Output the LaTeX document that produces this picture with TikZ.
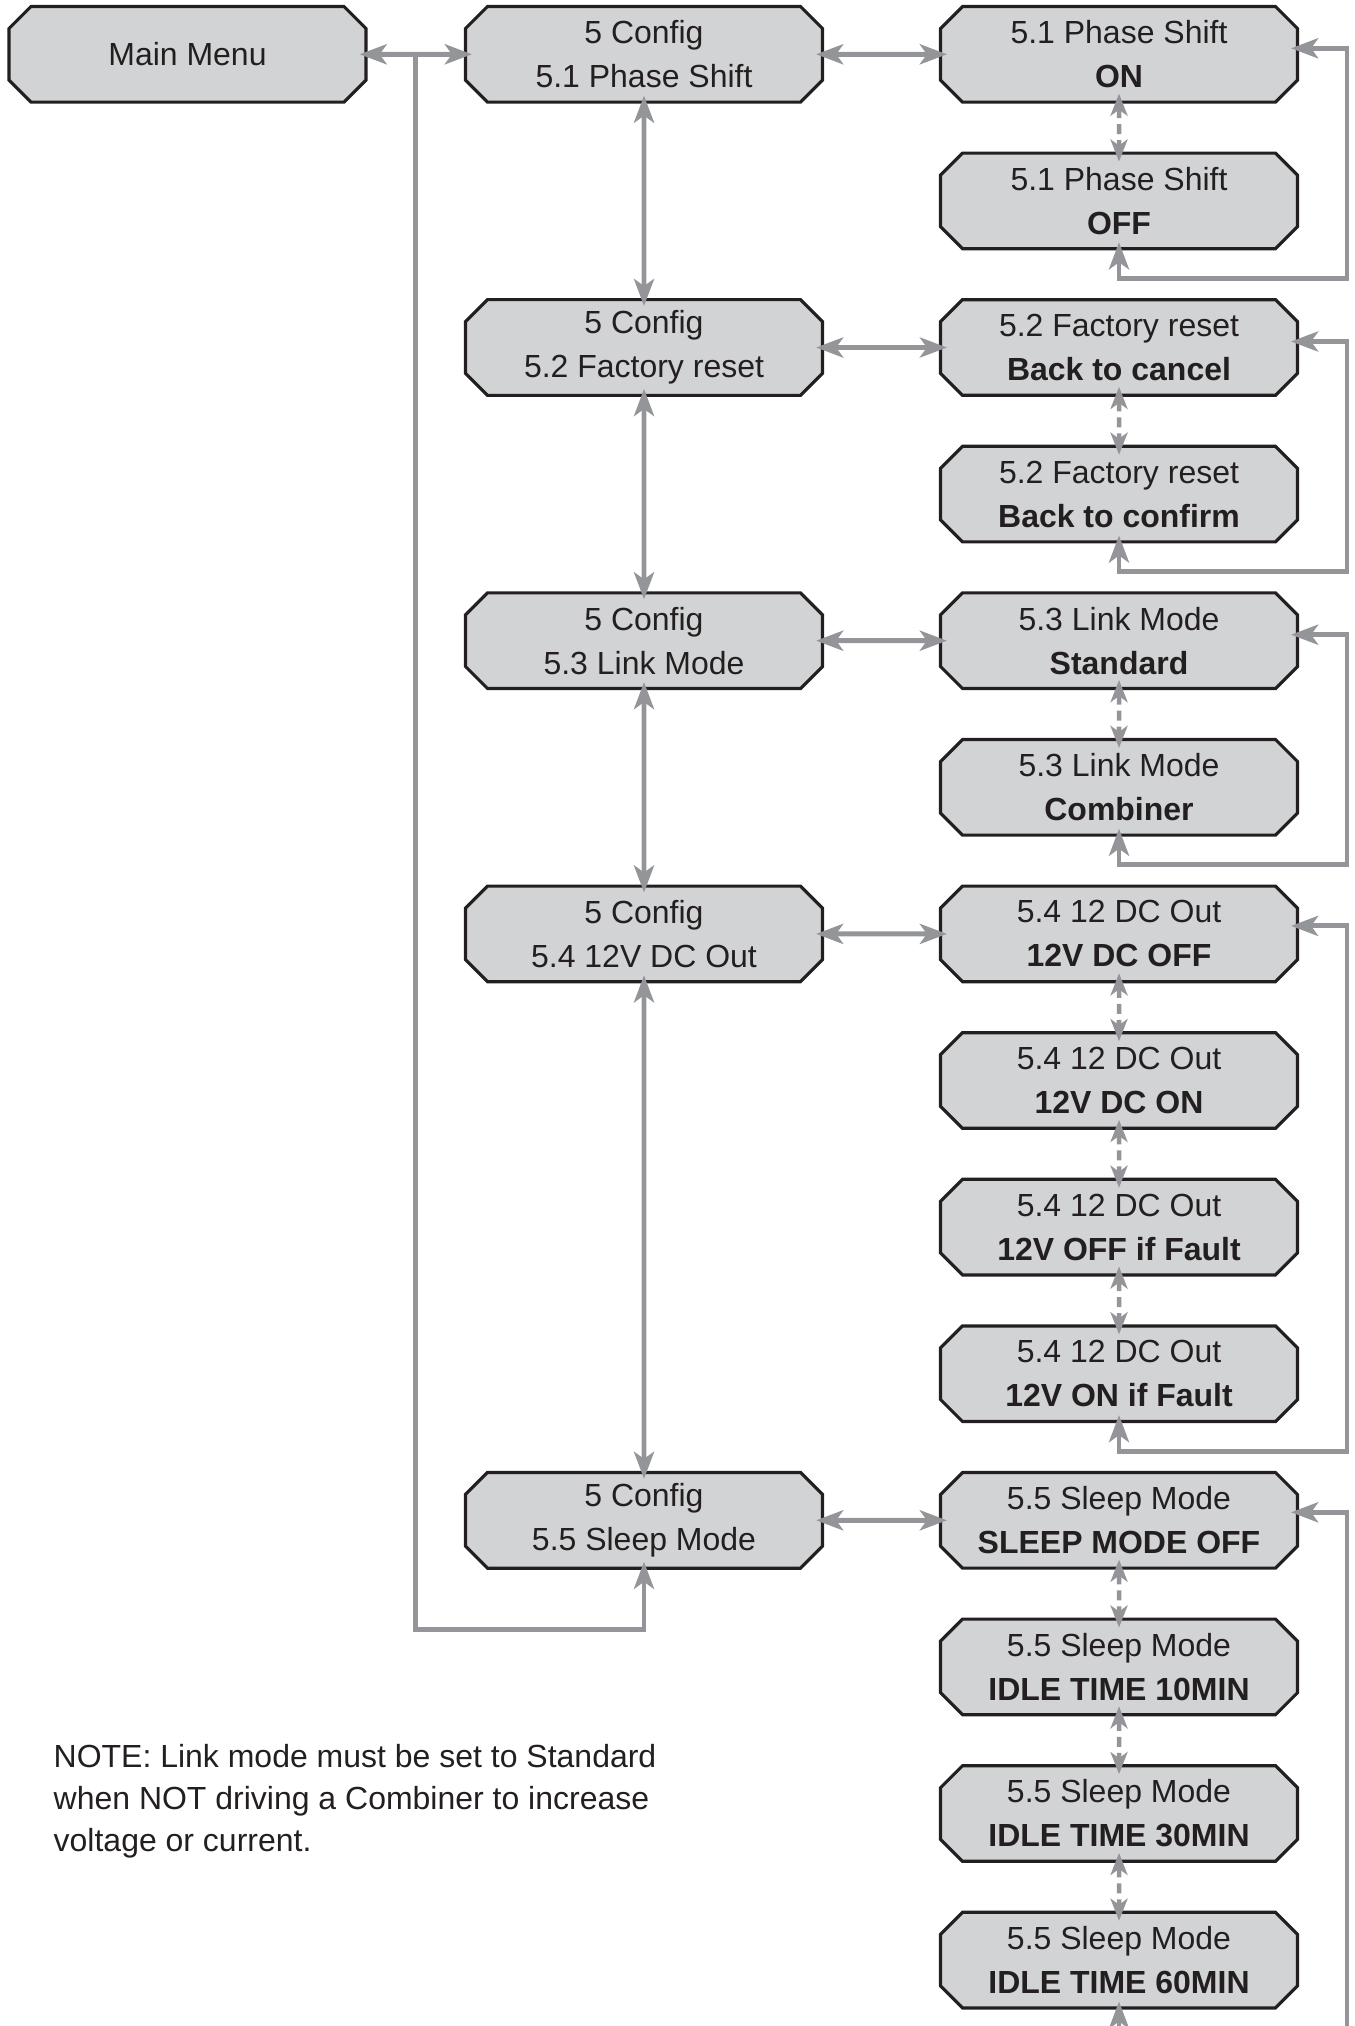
\documentclass[tikz,border=0pt]{standalone}
\usepackage{fontspec}
\setmainfont{Liberation Sans}
\usepackage{tikz}
\usetikzlibrary{shapes.misc, arrows.meta, positioning, calc}
\definecolor{boxgray}{HTML}{D1D3D4}
\definecolor{linegray}{HTML}{939598}
\definecolor{inkdark}{HTML}{231F20}
\tikzstyle{menubox} = [chamfered rectangle, chamfered rectangle sep=0.11cm, minimum width=3.57cm, minimum height=0.956cm, inner sep=0pt, align=center, draw=inkdark, line width=0.9pt, fill=boxgray, text=inkdark, font=\fontsize{9.1}{12.5}\selectfont]
\tikzstyle{biarrow} = [linegray, line width=1.4pt, {Stealth[length=0.27cm,width=0.2cm,inset=0.07cm]}-{Stealth[length=0.27cm,width=0.2cm,inset=0.07cm]}, shorten <=-0.08cm, shorten >=-0.08cm]
\tikzstyle{toarrow} = [linegray, line width=1.4pt, -{Stealth[length=0.27cm,width=0.2cm,inset=0.07cm]}, shorten >=-0.08cm]
\tikzstyle{dasharrow} = [linegray, line width=1.3pt, {Stealth[length=0.22cm,width=0.17cm,inset=0.06cm]}-{Stealth[length=0.22cm,width=0.17cm,inset=0.06cm]}, shorten <=-0.1cm, shorten >=-0.1cm, dash pattern=on 0.1cm off 0.06cm]
\tikzstyle{notetext} = [anchor=north west, align=left, inner sep=0pt, text=inkdark, font=\fontsize{9.1}{11.9}\selectfont]

\begin{document}
\begin{tikzpicture}[node distance=1.466cm]
\useasboundingbox (0,0) rectangle (13.55,-20.26);
\node (main) [menubox] at (1.875,-0.543) {Main Menu};
\node (cfgA) [menubox, right of=main, xshift=3.099cm] {5 Config\\5.1 Phase Shift};
\node (cfgB) [menubox, below of=cfgA, yshift=-1.466cm] {5 Config\\5.2 Factory reset};
\node (cfgC) [menubox, below of=cfgB, yshift=-1.466cm] {5 Config\\5.3 Link Mode};
\node (cfgD) [menubox, below of=cfgC, yshift=-1.466cm] {5 Config\\5.4 12V DC Out};
\node (cfgE) [menubox, below of=cfgD, yshift=-4.398cm] {5 Config\\5.5 Sleep Mode};

\node (psOn) [menubox, right of=cfgA, xshift=3.284cm] {5.1 Phase Shift\\\textbf{ON}};
\node (psOff) [menubox, below of=psOn] {5.1 Phase Shift\\\textbf{OFF}};
\node (frCancel) [menubox, below of=psOff] {5.2 Factory reset\\\textbf{Back to cancel}};
\node (frConfirm) [menubox, below of=frCancel] {5.2 Factory reset\\\textbf{Back to confirm}};
\node (lmStd) [menubox, below of=frConfirm] {5.3 Link Mode\\\textbf{Standard}};
\node (lmComb) [menubox, below of=lmStd] {5.3 Link Mode\\\textbf{Combiner}};
\node (dcOff) [menubox, below of=lmComb] {5.4 12 DC Out\\\textbf{12V DC OFF}};
\node (dcOn) [menubox, below of=dcOff] {5.4 12 DC Out\\\textbf{12V DC ON}};
\node (dcOffFault) [menubox, below of=dcOn] {5.4 12 DC Out\\\textbf{12V OFF if Fault}};
\node (dcOnFault) [menubox, below of=dcOffFault] {5.4 12 DC Out\\\textbf{12V ON if Fault}};
\node (slOff) [menubox, below of=dcOnFault] {5.5 Sleep Mode\\\textbf{SLEEP MODE OFF}};
\node (slTen) [menubox, below of=slOff] {5.5 Sleep Mode\\\textbf{IDLE TIME 10MIN}};
\node (slThirty) [menubox, below of=slTen] {5.5 Sleep Mode\\\textbf{IDLE TIME 30MIN}};
\node (slSixty) [menubox, below of=slThirty] {5.5 Sleep Mode\\\textbf{IDLE TIME 60MIN}};

\node (note) [notetext] at (0.53,-17.44) {NOTE: Link mode must be set to Standard\\when NOT driving a Combiner to increase\\voltage or current.};

% main menu and config column
\draw [biarrow] (main) -- (cfgA);
\coordinate (jn) at ($(main.east)!0.5!(cfgA.west)$);
\coordinate (cfgBack) at ($(cfgE.south)+(0,-0.595)$);
\draw [toarrow] (jn) |- (cfgBack) -- (cfgE.south);
\draw [biarrow] (cfgA) -- (cfgB);
\draw [biarrow] (cfgB) -- (cfgC);
\draw [biarrow] (cfgC) -- (cfgD);
\draw [biarrow] (cfgD) -- (cfgE);

% config to options
\draw [biarrow] (cfgA) -- (psOn);
\draw [biarrow] (cfgB) -- (frCancel);
\draw [biarrow] (cfgC) -- (lmStd);
\draw [biarrow] (cfgD) -- (dcOff);
\draw [biarrow] (cfgE) -- (slOff);

% option steps
\draw [dasharrow] (psOn) -- (psOff);
\draw [dasharrow] (frCancel) -- (frConfirm);
\draw [dasharrow] (lmStd) -- (lmComb);
\draw [dasharrow] (dcOff) -- (dcOn);
\draw [dasharrow] (dcOn) -- (dcOffFault);
\draw [dasharrow] (dcOffFault) -- (dcOnFault);
\draw [dasharrow] (slOff) -- (slTen);
\draw [dasharrow] (slTen) -- (slThirty);
\draw [dasharrow] (slThirty) -- (slSixty);

% wrap-around loops
\coordinate (psTurn) at ($(psOff.south)+(2.28,-0.28)$);
\draw [biarrow] ([yshift=0.06cm]psOn.east) -| (psTurn) -| (psOff.south);
\coordinate (frTurn) at ($(frConfirm.south)+(2.28,-0.28)$);
\draw [biarrow] ([yshift=0.06cm]frCancel.east) -| (frTurn) -| (frConfirm.south);
\coordinate (lmTurn) at ($(lmComb.south)+(2.28,-0.28)$);
\draw [biarrow] ([yshift=0.06cm]lmStd.east) -| (lmTurn) -| (lmComb.south);
\coordinate (dcTurn) at ($(dcOnFault.south)+(2.28,-0.28)$);
\draw [biarrow] ([yshift=0.08cm]dcOff.east) -| (dcTurn) -| (dcOnFault.south);
\coordinate (slTurn) at ($(slSixty.south)+(2.28,-0.28)$);
\draw [biarrow] ([yshift=0.08cm]slOff.east) -| (slTurn) -| (slSixty.south);
\end{tikzpicture}
\end{document}
